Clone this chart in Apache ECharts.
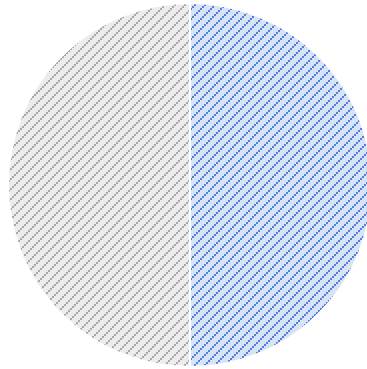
<!DOCTYPE html>
<html>
<head>
<meta charset="utf-8">
<script src="https://cdn.jsdelivr.net/npm/echarts@6/dist/echarts.min.js"></script>
<style>
  html, body { margin: 0; padding: 0; background: #fff; }
  #chart { width: 367px; height: 369px; }
</style>
</head>
<body>
<div id="chart"></div>
<script>
var sliceNames = ['B', 'A'];
var sliceValues = [50, 50];

// hatch tile: light fill with a stepped "/" diagonal made of 2x2 blocks
function hatch(bg, fg) {
  var size = 10;
  var c = document.createElement('canvas');
  c.width = size; c.height = size;
  var ctx = c.getContext('2d');
  ctx.fillStyle = bg;
  ctx.fillRect(0, 0, size, size);
  ctx.fillStyle = fg;
  for (var i = 0; i < size; i += 2) {
    ctx.fillRect(i, size - 2 - i, 2, 2);
  }
  return { image: c, repeat: 'repeat' };
}

var patterns = [
  hatch('#d9e3f8', '#4f80dc'),
  hatch('#ececec', '#a8a8a8')
];

var chart = echarts.init(document.getElementById('chart'));
chart.setOption({
  animation: false,
  series: [{
    type: 'pie',
    center: [190, 185],
    radius: [0, 182],
    startAngle: 90,
    clockwise: true,
    label: { show: false },
    labelLine: { show: false },
    itemStyle: { borderColor: '#fff', borderWidth: 2 },
    data: sliceNames.map(function (n, i) {
      return { name: n, value: sliceValues[i], itemStyle: { color: patterns[i] } };
    })
  }]
});
</script>
</body>
</html>
